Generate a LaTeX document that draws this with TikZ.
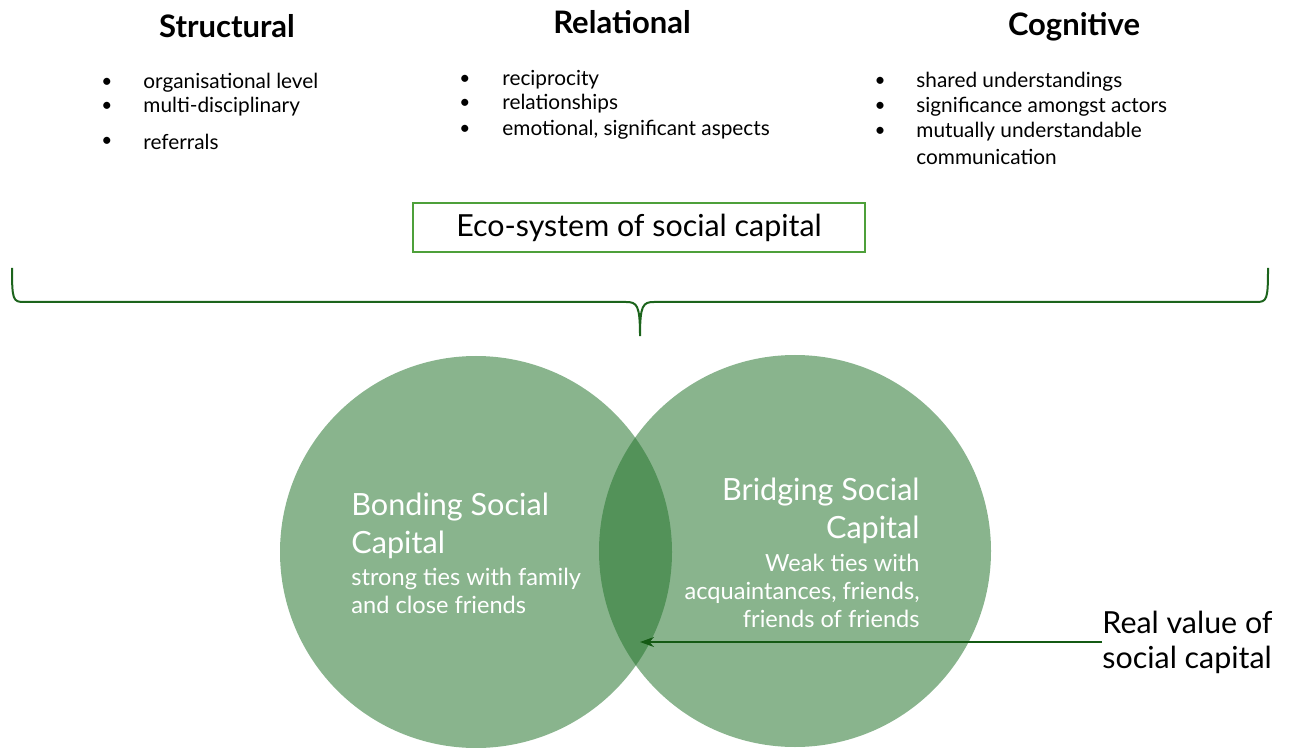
\documentclass[tikz,border=0pt]{standalone}
\usepackage{fontspec}
\setmainfont{Lato}
\usetikzlibrary{positioning,arrows.meta}

\definecolor{circgreen}{RGB}{37,117,45}
\definecolor{boxgreen}{RGB}{78,160,58}
\definecolor{bracegreen}{RGB}{28,100,28}
\definecolor{arrowgreen}{RGB}{20,90,20}

\tikzset{
    head/.style={inner sep=0pt,font=\fontsize{15.5}{17}\selectfont\bfseries},
    item/.style={anchor=west,inner sep=0pt,font=\fontsize{10.4}{12}\selectfont},
    dot/.style={inner sep=0pt,font=\fontsize{9.5}{11}\selectfont},
    capcircle/.style={circle,fill=circgreen,fill opacity=0.54,minimum size=196pt,inner sep=0pt},
    captitle/.style={inner sep=0pt,text=white,font=\fontsize{15.3}{19}\selectfont},
    captext/.style={inner sep=0pt,text=white,font=\fontsize{11.8}{14}\selectfont},
}

\begin{document}
\begin{tikzpicture}[x=0.5pt,y=-0.5pt]
    \useasboundingbox (0,0) rectangle (1295,748);
    \clip (0,0) rectangle (1295,748);

    % headings
    \node[head] (structural) at (227,26) {Structural};
    \node[head] (relational) at (622,22) {Relational};
    \node[head] (cognitive) at (1074,27) {Cognitive};

    % structural
    \node[dot] (sb1) at (107,83) {\textbullet};
    \node[item] (s1) at (143,83) {organisational level};
    \node[dot] (sb2) at (107,107) {\textbullet};
    \node[item] (s2) at (143,107) {multi-disciplinary};
    \node[dot] (sb3) at (107,142) {\textbullet};
    \node[item] (s3) at (143,142) {referrals};

    % relational
    \node[dot] (rb1) at (465,80) {\textbullet};
    \node[item] (r1) at (502,80) {reciprocity};
    \node[dot] (rb2) at (465,104) {\textbullet};
    \node[item] (r2) at (502,104) {relationships};
    \node[dot] (rb3) at (465,130) {\textbullet};
    \node[item] (r3) at (502,130) {emotional, significant aspects};

    % cognitive
    \node[dot] (cb1) at (880,82) {\textbullet};
    \node[item] (c1) at (916,82) {shared understandings};
    \node[dot] (cb2) at (880,107) {\textbullet};
    \node[item] (c2) at (916,107) {significance amongst actors};
    \node[dot] (cb3) at (880,132) {\textbullet};
    \node[item] (c3) at (916,132) {mutually understandable};
    \node[item] (c4) at (916,157) {communication};

    % eco-system box and brace
    \node[draw=boxgreen,line width=1pt,minimum width=226pt,minimum height=24.5pt,
          font=\fontsize{15.2}{17}\selectfont] (eco) at (639,228) {Eco-system of social capital};
    \coordinate (bl) at (12,268);
    \coordinate (br) at (1268,268);
    \coordinate (btip) at (640,336);
    \draw[bracegreen,line width=1pt] (bl) .. controls (12,300) and (13,302) .. (24,302)
        -- (626,302) .. controls (637,302) and (640,305) .. (btip)
        .. controls (640,305) and (643,302) .. (654,302)
        -- (1256,302) .. controls (1267,302) and (1268,300) .. (br);

    % circles
    \node[capcircle] (bonding) at (476,552) {};
    \node[capcircle] (bridging) at (795,551) {};

    \node[captitle,anchor=west,align=left] (bondtitle) at (351,526) {Bonding Social\\Capital};
    \node[captext,anchor=west,align=left] (bondtext) at (351,591) {strong ties with family\\and close friends};
    \node[captitle,anchor=east,align=right] (bridgetitle) at (920,511) {Bridging Social\\Capital};
    \node[captext,anchor=east,align=right] (bridgetext) at (920,591) {Weak ties with\\acquaintances, friends,\\friends of friends};

    % real value
    \node[inner sep=0pt,anchor=west,align=left,font=\fontsize{15.2}{17.5}\selectfont] (realval) at (1102,642) {Real value of\\social capital};
    \coordinate (ov) at (640,642);
    \draw[arrowgreen,line width=0.9pt,-{Stealth[length=7pt,width=5pt]}] (realval.west) -- (ov);

\end{tikzpicture}
\end{document}
